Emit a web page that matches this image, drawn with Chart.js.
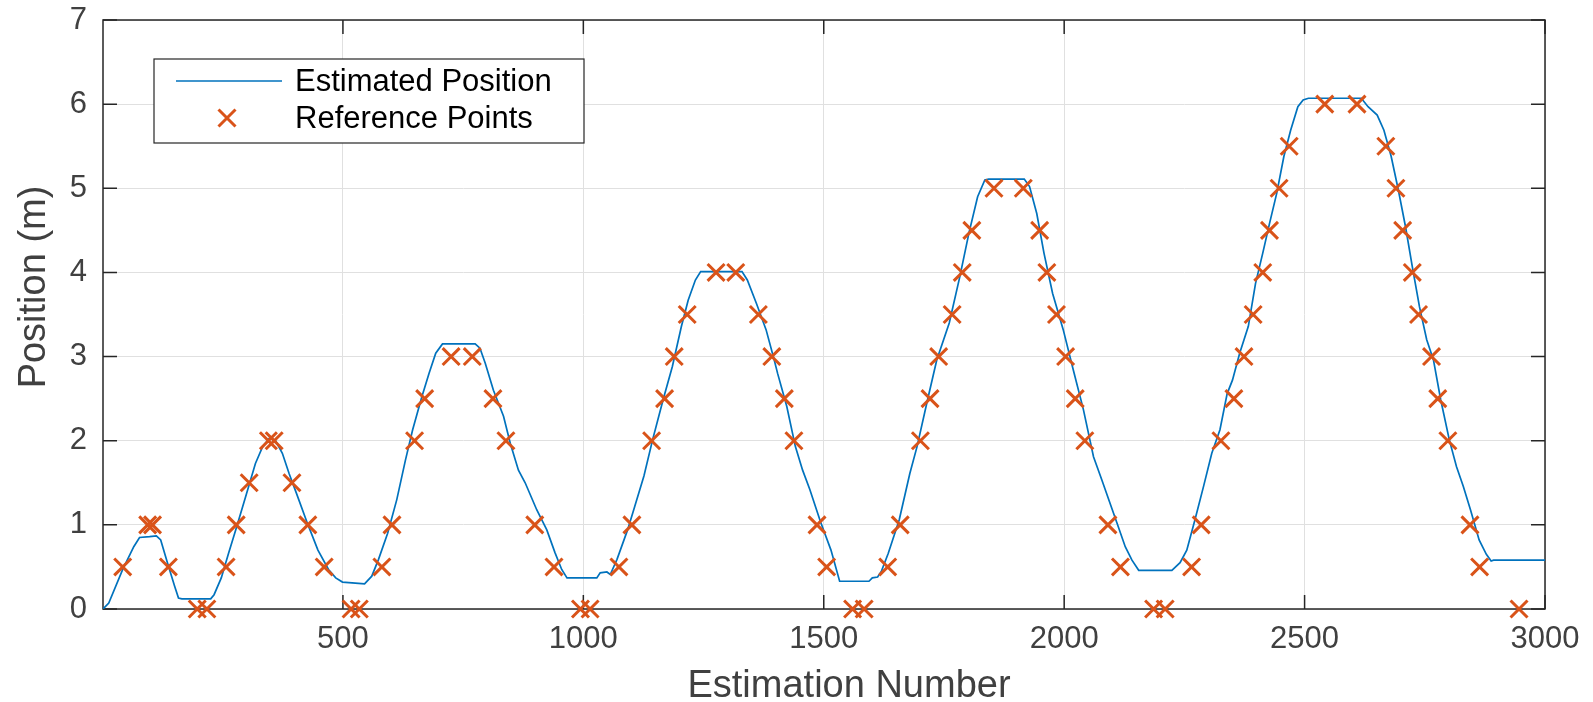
<!DOCTYPE html>
<html>
<head>
<meta charset="utf-8">
<script src="https://cdn.jsdelivr.net/npm/chart.js@4/dist/chart.umd.min.js"></script>
<style>
  html, body { margin: 0; padding: 0; background: #fff; }
  #wrap { width: 1593px; height: 702px; }
</style>
</head>
<body>
<div id="wrap"><canvas id="posChart"></canvas></div>
<script>
// estimated position trace (estimation number, metres)
var lineX = [1, 13, 42, 65, 77, 98, 112, 121, 135, 150, 158, 165, 225, 232, 247, 262, 277, 299, 318, 333,
  347, 359, 374, 388, 403, 426, 448, 470, 485, 499, 519, 545, 560, 574, 593, 612, 630, 645, 664, 679,
  693, 707, 775, 785, 796, 813, 834, 848, 865, 879, 903, 924, 941, 955, 966, 1028, 1035, 1049, 1056, 1070,
  1092, 1107, 1126, 1144, 1166, 1185, 1204, 1218, 1233, 1244, 1330, 1341, 1360, 1380, 1397, 1404, 1423, 1441, 1456, 1471,
  1493, 1515, 1533, 1594, 1601, 1612, 1620, 1634, 1657, 1679, 1694, 1716, 1735, 1761, 1783, 1802, 1820, 1835, 1843, 1917,
  1928, 1943, 1958, 1976, 1998, 2019, 2040, 2061, 2078, 2110, 2127, 2141, 2155, 2224, 2241, 2255, 2272, 2290, 2307, 2324,
  2339, 2350, 2365, 2383, 2398, 2413, 2427, 2442, 2457, 2471, 2486, 2497, 2508, 2618, 2632, 2651, 2665, 2680, 2695,
  2710, 2724, 2739, 2754, 2768, 2783, 2801, 2816, 2830, 2845, 2863, 2878, 2888, 2893, 3000];
var lineY = [0, 0.07, 0.47, 0.74, 0.85, 0.86, 0.87, 0.82, 0.55, 0.27, 0.13, 0.12, 0.12, 0.17, 0.37, 0.66, 0.94, 1.36, 1.73, 1.93,
  2.03, 2.01, 1.85, 1.61, 1.38, 1.02, 0.70, 0.47, 0.37, 0.32, 0.31, 0.30, 0.39, 0.59, 0.90, 1.30, 1.77, 2.13, 2.52, 2.80,
  3.04, 3.15, 3.15, 3.10, 2.92, 2.60, 2.29, 1.97, 1.65, 1.50, 1.18, 0.94, 0.67, 0.47, 0.37, 0.37, 0.43, 0.44, 0.41, 0.59,
  0.94, 1.22, 1.58, 2.01, 2.49, 2.88, 3.36, 3.67, 3.91, 4.01, 4.01, 3.91, 3.63, 3.32, 2.96, 2.80, 2.41, 1.93, 1.65, 1.42,
  1.04, 0.70, 0.33, 0.33, 0.37, 0.38, 0.45, 0.66, 1.06, 1.61, 1.93, 2.49, 2.96, 3.40, 3.95, 4.47, 4.90, 5.10, 5.11, 5.11,
  5.02, 4.70, 4.23, 3.75, 3.32, 2.84, 2.37, 1.81, 1.54, 1.02, 0.74, 0.58, 0.46, 0.46, 0.55, 0.70, 1.06, 1.46, 1.85, 2.13,
  2.56, 2.72, 3.04, 3.36, 3.87, 4.23, 4.58, 4.94, 5.38, 5.69, 5.97, 6.05, 6.07, 6.07, 5.97, 5.87, 5.69, 5.38, 4.98,
  4.54, 4.07, 3.59, 3.20, 2.96, 2.49, 2.01, 1.69, 1.46, 1.18, 0.82, 0.65, 0.57, 0.58, 0.58];

// reference points
var refX = [42, 94, 104, 137, 197, 217,
  257, 278, 305, 345, 357, 394, 427, 461, 517, 534,
  581, 602, 649, 670, 725, 769, 812, 839, 899, 939, 994, 1014,
  1074, 1101, 1142, 1169, 1189, 1216, 1276, 1317, 1364, 1392, 1418, 1438, 1486, 1506, 1560, 1584,
  1633, 1659, 1701, 1721, 1739, 1767, 1788, 1808, 1854, 1915, 1949, 1964, 1984, 2003, 2023, 2043, 2091, 2117, 2186, 2210,
  2265, 2285, 2326, 2353, 2374, 2393, 2413, 2427, 2447, 2468, 2542, 2609, 2669, 2690, 2704, 2724, 2737, 2764, 2777, 2798, 2844, 2864, 2946];
var refY = [0.5, 1, 1, 0.5, 0, 0,
  0.5, 1, 1.5, 2, 2, 1.5, 1, 0.5, 0, 0,
  0.5, 1, 2, 2.5, 3, 3, 2.5, 2, 1, 0.5, 0, 0,
  0.5, 1, 2, 2.5, 3, 3.5, 4, 4, 3.5, 3, 2.5, 2, 1, 0.5, 0, 0,
  0.5, 1, 2, 2.5, 3, 3.5, 4, 4.5, 5, 5, 4.5, 4, 3.5, 3, 2.5, 2, 1, 0.5, 0, 0,
  0.5, 1, 2, 2.5, 3, 3.5, 4, 4.5, 5, 5.5, 6, 6, 5.5, 5, 4.5, 4, 3.5, 3, 2.5, 2, 1, 0.5, 0];

var xTicks = [500, 1000, 1500, 2000, 2500, 3000];
var yTicks = [0, 1, 2, 3, 4, 5, 6, 7];
var xTitle = 'Estimation Number';
var yTitle = 'Position (m)';

var axisColor = '#262626';
var textColor = '#404040';
var fontFamily = '"Liberation Sans", Arial, Helvetica, sans-serif';

function toPoints(xs, ys) {
  return xs.map(function(x, i) { return {x: x, y: ys[i]}; });
}

// box with inward ticks on all four sides, like a matlab axes
var axesBox = {
  id: 'axesBox',
  beforeDatasetsDraw: function(chart) {
    var ctx = chart.ctx, a = chart.chartArea;
    var xs = chart.scales.x, ys = chart.scales.y;
    var tl = 14;
    ctx.save();
    ctx.strokeStyle = axisColor;
    ctx.lineWidth = 1.5;
    ctx.beginPath();
    xTicks.forEach(function(v) {
      var px = xs.getPixelForValue(v);
      ctx.moveTo(px, a.bottom); ctx.lineTo(px, a.bottom - tl);
      ctx.moveTo(px, a.top); ctx.lineTo(px, a.top + tl);
    });
    yTicks.forEach(function(v) {
      var py = ys.getPixelForValue(v);
      ctx.moveTo(a.left, py); ctx.lineTo(a.left + tl, py);
      ctx.moveTo(a.right, py); ctx.lineTo(a.right - tl, py);
    });
    ctx.stroke();
    ctx.strokeRect(a.left, a.top, a.right - a.left, a.bottom - a.top);
    ctx.restore();
  }
};

// axis labels, placed where the original figure has them
var axisTitles = {
  id: 'axisTitles',
  afterDraw: function(chart) {
    var ctx = chart.ctx;
    ctx.save();
    ctx.fillStyle = textColor;
    ctx.font = '38px ' + fontFamily;
    ctx.textAlign = 'center';
    ctx.textBaseline = 'alphabetic';
    ctx.fillText(xTitle, 849, 697);
    ctx.translate(45, 287);
    ctx.rotate(-Math.PI / 2);
    ctx.fillText(yTitle, 0, 0);
    ctx.restore();
  }
};

// legend box drawn inside the axes, top left
var insideLegend = {
  id: 'insideLegend',
  afterDraw: function(chart) {
    var ctx = chart.ctx;
    var box = {x: 154, y: 59, w: 430, h: 84};
    var rows = [81, 118];
    ctx.save();
    ctx.fillStyle = '#fff';
    ctx.fillRect(box.x, box.y, box.w, box.h);
    ctx.strokeStyle = axisColor;
    ctx.lineWidth = 1.2;
    ctx.strokeRect(box.x, box.y, box.w, box.h);
    chart.data.datasets.forEach(function(ds, i) {
      var y = rows[i];
      ctx.strokeStyle = ds.borderColor;
      ctx.lineWidth = ds.borderWidth;
      ctx.beginPath();
      if (ds.showLine) {
        ctx.moveTo(176, y); ctx.lineTo(282, y);
      } else {
        var h = 8.5;
        ctx.moveTo(227 - h, y - h); ctx.lineTo(227 + h, y + h);
        ctx.moveTo(227 - h, y + h); ctx.lineTo(227 + h, y - h);
      }
      ctx.stroke();
      ctx.fillStyle = '#000';
      ctx.font = '31px ' + fontFamily;
      ctx.textBaseline = 'middle';
      ctx.textAlign = 'left';
      ctx.fillText(ds.label, 295, y + 1);
    });
    ctx.restore();
  }
};

var ctx = document.getElementById('posChart').getContext('2d');
var posChart = new Chart(ctx, {
  type: 'scatter',
  data: {
    datasets: [{
      label: 'Estimated Position',
      data: toPoints(lineX, lineY),
      showLine: true,
      borderColor: '#0072BD',
      borderWidth: 1.7,
      pointRadius: 0,
      tension: 0,
      order: 2
    }, {
      label: 'Reference Points',
      data: toPoints(refX, refY),
      showLine: false,
      pointStyle: 'crossRot',
      pointRadius: 12,
      borderColor: '#D95319',
      backgroundColor: '#D95319',
      borderWidth: 3,
      clip: false,
      order: 1
    }]
  },
  options: {
    responsive: true,
    maintainAspectRatio: false,
    animation: false,
    layout: { padding: { top: 20, right: 48, left: 0, bottom: 0 } },
    plugins: {
      legend: { display: false },
      tooltip: { enabled: false }
    },
    scales: {
      x: {
        type: 'linear',
        min: 1,
        max: 3000,
        afterBuildTicks: function(scale) {
          scale.ticks = xTicks.map(function(v) { return {value: v}; });
        },
        afterFit: function(scale) {
          scale.height = 93;
          scale.paddingLeft = 0;
          scale.paddingRight = 0;
        },
        grid: { color: '#e0e0e0', lineWidth: 1, drawTicks: false },
        border: { display: false },
        ticks: {
          color: textColor,
          font: { family: fontFamily, size: 31 },
          padding: 12,
          maxRotation: 0,
          callback: function(v) { return String(v); }
        }
      },
      y: {
        type: 'linear',
        min: 0,
        max: 7,
        afterBuildTicks: function(scale) {
          scale.ticks = yTicks.map(function(v) { return {value: v}; });
        },
        afterFit: function(scale) {
          scale.width = 103;
          scale.paddingTop = 0;
          scale.paddingBottom = 0;
        },
        grid: { color: '#e0e0e0', lineWidth: 1, drawTicks: false },
        border: { display: false },
        ticks: {
          color: textColor,
          font: { family: fontFamily, size: 31 },
          padding: 16,
          callback: function(v) { return String(v); }
        }
      }
    }
  },
  plugins: [axesBox, axisTitles, insideLegend]
});
</script>
</body>
</html>
